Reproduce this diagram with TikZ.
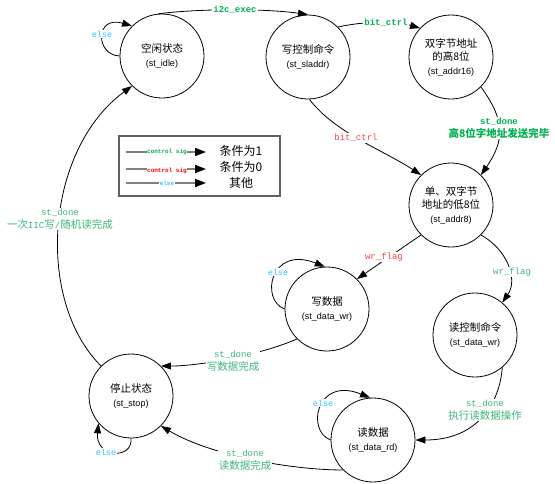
\documentclass[tikz,border=0pt]{standalone}
\usepackage{fontspec}
\newfontfamily\cjk{Noto Sans CJK SC}
\newfontfamily\lsans{Liberation Sans}
\newfontfamily\lmono{Liberation Mono}
\usetikzlibrary{arrows.meta}
\definecolor{gA}{HTML}{00B050}
\definecolor{gB}{HTML}{3CB878}
\definecolor{rA}{HTML}{FF4545}
\definecolor{rB}{HTML}{FF0000}
\definecolor{bA}{HTML}{33C4FF}
\definecolor{legGray}{HTML}{808080}
\definecolor{boxGray}{HTML}{606060}
\newcommand{\stname}[1]{{\lsans\fontsize{9}{13.5}\selectfont #1}}
\newcommand{\cjkl}[1]{{\cjk\fontsize{10.5}{13}\selectfont #1}}
\begin{document}
\begin{tikzpicture}[x=1pt,y=-1pt,
  state/.style={circle,draw,line width=0.8pt,minimum size=84pt,inner sep=0pt,align=center,
    font=\fontsize{10.5}{13.5}\selectfont\cjk},
  edge/.style={draw,line width=0.8pt,-{Triangle[length=10pt,width=7pt]}},
  lab/.style={fill=white,inner sep=1pt,align=center,font=\lmono\fontsize{9}{13}\selectfont},
  elselab/.style={lab,text=bA,font=\lmono\fontsize{8.5}{10}\selectfont},
  legline/.style={draw=legGray,line width=1.6pt,-{Triangle[length=11pt,width=8pt,color=black]}},
  leglab/.style={fill=white,inner sep=0.5pt,font=\lmono\bfseries\fontsize{6}{7}\selectfont},
  legtext/.style={font=\cjk\fontsize{12}{14}\selectfont}
]
\useasboundingbox (0,0) rectangle (555,483);

% states
\node[state] (idle)   at (162,56)  {空闲状态\\\stname{(st\_idle)}};
\node[state] (sladdr) at (308,57)  {写控制命令\\\stname{(st\_sladdr)}};
\node[state] (addr16) at (451,57)  {双字节地址\\的高8位\\\stname{(st\_addr16)}};
\node[state] (addr8)  at (451,205) {单、双字节\\地址的低8位\\\stname{(st\_addr8)}};
\node[state] (dwr)    at (327,309) {写数据\\\stname{(st\_data\_wr)}};
\node[state] (rdcmd)  at (475,335) {读控制命令\\\stname{(st\_data\_wr)}};
\node[state] (stop)   at (131,396) {停止状态\\\stname{(st\_stop)}};
\node[state] (drd)    at (373,440) {读数据\\\stname{(st\_data\_rd)}};

% transitions
\draw[edge] (idle.95) .. controls (200,8.5) and (265,8.5) .. (sladdr.90);
\draw[edge] (sladdr.45) .. controls (365,21) and (395,21) .. (addr16.137);
\draw[edge] (sladdr.272) .. controls (335,133) and (385,151) .. (addr8.135);
\draw[edge] (addr16.-45) .. controls (505,120) and (505,140) .. (addr8.45);
\draw[edge] (addr8.225) -- (dwr.45);
\draw[edge] (addr8.-45) .. controls (508,250) and (518,280) .. (rdcmd.50);
\draw[edge] (rdcmd.-50) .. controls (500,400) and (480,440) .. (drd.0);
\draw[edge] (dwr.225) .. controls (260,355) and (200,366) .. (stop.45);
\draw[edge] (drd.225) .. controls (290,470) and (210,455) .. (stop.-45);
\draw[edge] (stop.135) .. controls (35,300) and (45,150) .. (idle.225);
% self loops
\draw[edge] (idle.180) .. controls (95,55) and (95,15) .. (idle.135);
\draw[edge] (dwr.180) .. controls (260,300) and (270,245) .. (dwr.93);
\draw[edge] (drd.180) .. controls (306,431) and (316,376) .. (drd.94);
\draw[edge] (stop.270) .. controls (133,460) and (95,458) .. (stop.220);

% labels
\node[lab,text=gA,font=\lmono\bfseries\fontsize{9}{13}\selectfont] (li2c) at (235,10) {i2c\_exec};
\node[lab,text=gA,font=\lmono\bfseries\fontsize{9}{13}\selectfont] (lbit1) at (386,23) {bit\_ctrl};
\node[lab,text=rA] (lbit2) at (356,138) {bit\_ctrl};
\node[lab,text=gA,font=\lmono\bfseries\fontsize{9}{13}\selectfont] (ldone1) at (499,128)
  {st\_done\\{\cjk\bfseries\fontsize{10.5}{13}\selectfont 高8位字地址发送完毕}};
\node[lab,text=rA] (lwr1) at (384,257) {wr\_flag};
\node[lab,text=gB] (lwr2) at (512,272) {wr\_flag};
\node[lab,text=gB] (ldone2) at (485,410) {st\_done\\\cjkl{执行读数据操作}};
\node[lab,text=gB] (ldone3) at (233,361) {st\_done\\\cjkl{写数据完成}};
\node[lab,text=gB] (ldone4) at (245,460) {st\_done\\\cjkl{读数据完成}};
\node[lab,text=gB] (ldone5) at (60,219) {st\_done\\\cjkl{一次{\lmono\fontsize{9}{13}\selectfont IIC}写{\lmono\fontsize{9}{13}\selectfont /}随机读完成}};
\node[elselab] (le1) at (102,34) {else};
\node[elselab] (le2) at (278,272) {else};
\node[elselab] (le3) at (323,403) {else};
\node[elselab] (le4) at (106,452) {else};

% legend
\node[draw=boxGray,line width=1.2pt,minimum width=161pt,minimum height=60pt,inner sep=0pt] (legend) at (199.5,166) {};
\coordinate (l1s) at (126,152); \coordinate (l1e) at (206,152);
\coordinate (l2s) at (126,169); \coordinate (l2e) at (206,169);
\coordinate (l3s) at (126,183); \coordinate (l3e) at (206,183);
\draw[legline] (l1s) -- (l1e);
\draw[legline] (l2s) -- (l2e);
\draw[legline] (l3s) -- (l3e);
\node[leglab,text=gA] (lg1) at (167,152) {control sig};
\node[leglab,text=rB] (lg2) at (167,171) {control sig};
\node[leglab,text=bA] (lg3) at (167,183) {else};
\node[legtext] (lt1) at (241,151) {条件为1};
\node[legtext] (lt2) at (241,167) {条件为0};
\node[legtext] (lt3) at (241,183) {其他};
\end{tikzpicture}
\end{document}
